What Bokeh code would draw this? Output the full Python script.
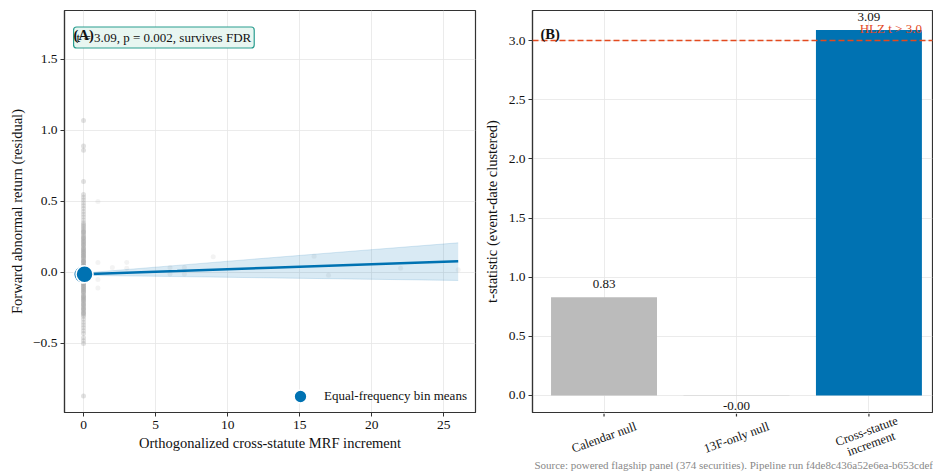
import math
from bokeh.plotting import figure
from bokeh.layouts import row, column
from bokeh.models import (Range1d, FixedTicker, CustomJSTickFormatter, Label, Span,
                          Legend, LegendItem, Div)
from bokeh.embed import file_html
from bokeh.resources import INLINE
from bokeh.core.properties import value

FONT = "Liberation Serif"
BLUE = "#0072B2"
GREY_BAR = "#BBBBBB"
RED = "#E34A1F"
SPINE = "#333333"

# ---------------- Panel A data ----------------
zero_resid = [1.07, 0.89, 0.86, 0.64, 0.55, 0.53, 0.51, 0.49, 0.47, 0.45, 0.43, 0.41,
              0.39, 0.37, 0.35, 0.34, 0.33, 0.32, 0.31, 0.30, 0.29, 0.28, 0.27, 0.26,
              0.25, 0.24, 0.23, 0.22, 0.21, 0.20, 0.19, 0.18, 0.17, 0.16, 0.15, 0.14,
              0.13, 0.12, 0.11, 0.10, 0.09, 0.08, 0.07, 0.06, 0.05, 0.04, 0.03, 0.02,
              0.01, 0.00, -0.01, -0.02, -0.03, -0.04, -0.05, -0.06, -0.07, -0.08,
              -0.09, -0.10, -0.11, -0.12, -0.13, -0.14, -0.15, -0.16, -0.17, -0.18,
              -0.19, -0.20, -0.21, -0.22, -0.23, -0.24, -0.25, -0.26, -0.27, -0.28,
              -0.29, -0.30, -0.31, -0.33, -0.35, -0.37, -0.39, -0.41, -0.43, -0.46,
              -0.48, -0.50, -0.87,
              0.22, 0.15, 0.08, 0.03, -0.02, -0.06, -0.12, -0.18, 0.12, 0.05, -0.04, -0.09,
              0.285, 0.245, 0.195, 0.165, 0.135, 0.105, 0.075, 0.045, 0.015, -0.015,
              -0.045, -0.075, -0.105, -0.135, -0.165, -0.195, -0.225, -0.255, -0.285]
other_x = [1, 1, 1, 1, 2, 3, 3, 6, 6, 7, 7, 9, 16, 17, 22, 26]
other_y = [0.50, 0.07, -0.05, -0.11, 0.035, 0.07, 0.03, 0.035, -0.01, 0.035, -0.01,
           0.11, 0.115, -0.02, 0.03, 0.02]
bin_x = [-0.09, 0.07]
bin_y = [-0.014, -0.012]
fit_x = [0.0, 6.5, 13.0, 19.5, 26.0]
fit_y = [-0.013, 0.010, 0.034, 0.057, 0.080]
fit_lo = [-0.020, -0.029, -0.038, -0.047, -0.056]
fit_hi = [-0.004, 0.050, 0.104, 0.157, 0.209]
annot_text = "t = 3.09, p = 0.002, survives FDR"
x_ticks_a = [0, 5, 10, 15, 20, 25]
y_ticks_a = [-0.5, 0.0, 0.5, 1.0, 1.5]

# ---------------- Panel B data ----------------
categories = ["Calendar null", "13F-only null", "Cross-statute\nincrement"]
t_values = [0.83, -0.002, 3.09]
bar_colors = [GREY_BAR, GREY_BAR, BLUE]
hlz_threshold = 3.0
y_ticks_b = [0.0, 0.5, 1.0, 1.5, 2.0, 2.5, 3.0]

source_text = ("Source: powered flagship panel (374 securities). "
               "Pipeline run f4de8c436a52e6ea-b653cdef")

# ---------------- geometry ----------------
H_TOTAL = 474
H_NOTE = 12
H = H_TOTAL - H_NOTE
TOP = 10
FRAME_H = 402
W1, W2 = 480, 453
B2_LEFT, B2_RIGHT, B2_BOTTOM = 50, 1, 1
H2 = TOP + FRAME_H + B2_BOTTOM
H3 = H - H2


def style(p):
    p.outline_line_color = SPINE
    p.outline_line_width = 1.2
    p.background_fill_color = "white"
    p.border_fill_color = "white"
    for ax in p.axis:
        ax.axis_line_color = SPINE
        ax.axis_line_width = 1.2
        ax.major_tick_line_color = SPINE
        ax.major_tick_out = 4
        ax.major_tick_in = 0
        ax.minor_tick_line_color = None
        ax.major_label_text_font = FONT
        ax.major_label_text_font_size = "13.5px"
        ax.major_label_text_color = "#111111"
        ax.axis_label_text_font = FONT
        ax.axis_label_text_font_size = "14.5px"
        ax.axis_label_text_font_style = "normal"
        ax.axis_label_text_color = "#111111"
        ax.major_label_standoff = 3
    for g in p.grid:
        g.grid_line_color = "#E6E6E6"
        g.grid_line_width = 0.8


num_fmt = CustomJSTickFormatter(code="""
    return tick < 0 ? "\\u2212" + Math.abs(tick).toFixed(1) : tick.toFixed(1);
""")

# ---------------- Panel A ----------------
p1 = figure(width=W1, height=H, output_backend="svg", toolbar_location=None,
            x_range=Range1d(-1.32, 27.2), y_range=Range1d(-0.986, 1.845),
            min_border_left=64, min_border_right=5, min_border_top=TOP,
            min_border_bottom=H - TOP - FRAME_H)
p1.scatter([0] * len(zero_resid), zero_resid, size=5, color="#AAAAAA", alpha=0.35,
           line_color=None)
p1.scatter(other_x, other_y, size=5, color="#999999", alpha=0.12, line_color=None)
p1.varea(x=fit_x, y1=fit_lo, y2=fit_hi, fill_color=BLUE, fill_alpha=0.15)
p1.line(fit_x, fit_lo, line_color=BLUE, line_alpha=0.15, line_width=1)
p1.line(fit_x, fit_hi, line_color=BLUE, line_alpha=0.15, line_width=1)
p1.line(fit_x, fit_y, line_color=BLUE, line_width=2.5)
r_bins = p1.scatter(bin_x, bin_y, size=17, fill_color=BLUE, line_color="white",
                    line_width=1.5)

p1.xaxis.ticker = FixedTicker(ticks=x_ticks_a)
p1.yaxis.ticker = FixedTicker(ticks=y_ticks_a)
p1.yaxis.formatter = num_fmt
p1.xaxis.axis_label = "Orthogonalized cross-statute MRF increment"
p1.yaxis.axis_label = "Forward abnormal return (residual)"
style(p1)
p1.xaxis.major_label_standoff = 4
p1.xaxis.axis_label_standoff = 3
p1.yaxis.axis_label_standoff = 5

legend = Legend(items=[LegendItem(label="Equal-frequency bin means", renderers=[r_bins])],
                location="bottom_right", border_line_alpha=0, background_fill_alpha=0,
                glyph_width=32, glyph_height=32, padding=0, margin=0, label_standoff=8,
                label_width=151, label_text_font=FONT, label_text_font_size="13px",
                label_text_color="#111111")
p1.add_layout(legend)

p1.add_layout(Label(x=-0.69, y=1.655, text=annot_text, text_font=FONT,
                    text_font_size="13px", text_color="#111111", text_align="left",
                    text_baseline="middle", background_fill_color="#E8F6F1",
                    border_line_color="#2A9D8F", border_line_width=1.2,
                    padding=3, border_radius=3))
p1.add_layout(Label(x=-0.69, y=1.67, text="(A)", text_font=FONT, text_font_size="14.5px",
                    text_font_style="bold", text_color="#111111", text_align="left",
                    text_baseline="middle"))

# ---------------- Panel B ----------------
idx = list(range(len(categories)))
xb0, xb1 = -0.54, 2.48
yb0, yb1 = -0.144, 3.254
p2 = figure(width=W2, height=H2, output_backend="svg", toolbar_location=None,
            x_range=Range1d(xb0, xb1), y_range=Range1d(yb0, yb1),
            min_border_left=B2_LEFT, min_border_right=B2_RIGHT, min_border_top=TOP,
            min_border_bottom=B2_BOTTOM)
p2.vbar(x=idx, top=t_values, width=0.8, fill_color=bar_colors, line_color=None)
p2.add_layout(Span(location=hlz_threshold, dimension="width", line_color=RED,
                   line_dash="6 3", line_width=1.5))
p2.text(x=idx, y=t_values, text=["%.2f" % v for v in t_values],
        y_offset=[-13 if v >= 0 else 10 for v in t_values],
        text_align="center", text_baseline="middle", text_font=value(FONT),
        text_font_size="13px", text_font_style="normal", text_color="#111111")
p2.text(x=[2.40], y=[hlz_threshold], text=["HLZ t > %.1f" % hlz_threshold], y_offset=[-12],
        text_align="right", text_baseline="middle", text_font=value(FONT),
        text_font_size="13px", text_font_style="normal", text_color=RED)

p2.yaxis.ticker = FixedTicker(ticks=y_ticks_b)
p2.yaxis.formatter = num_fmt
p2.yaxis.axis_label = "t-statistic (event-date clustered)"
style(p2)
p2.xaxis.visible = False
p2.xgrid.ticker = FixedTicker(ticks=idx)
p2.yaxis.axis_label_standoff = 6

p2.add_layout(Label(x=xb0, y=3.12, text="(B)", text_font=FONT, text_font_size="14.5px",
                    text_font_style="bold", text_color="#111111", text_align="left",
                    text_baseline="top", x_offset=8))

# strip below panel B (frame aligned with panel B): tick marks and rotated labels
p3 = figure(width=W2, height=H3, output_backend="svg", toolbar_location=None,
            x_range=Range1d(xb0, xb1), y_range=Range1d(0, H3),
            min_border_left=B2_LEFT, min_border_right=B2_RIGHT, min_border_top=0,
            min_border_bottom=0)
p3.axis.visible = False
p3.grid.visible = False
p3.outline_line_color = None
p3.background_fill_color = "white"
p3.border_fill_color = "white"
p3.segment(x0=idx, y0=[H3] * len(idx), x1=idx, y1=[H3 - (4 - B2_BOTTOM)] * len(idx),
           line_color=SPINE, line_width=1.2)
for i, cat in enumerate(categories):
    p3.add_layout(Label(x=i, y=H3 - 24, text=cat, angle=math.radians(20),
                        text_align="center", text_baseline="middle", text_font=FONT,
                        text_font_size="12.5px", text_color="#111111",
                        text_line_height=0.95))

note = Div(text=('<div style="display:block;position:relative;top:-5px;width:%dpx;'
                 'text-align:right;font-family:\'Liberation Serif\';font-size:11px;'
                 'color:#888888;line-height:%dpx;white-space:nowrap;">%s</div>')
                % (W1 + W2, H_NOTE, source_text),
           width=W1 + W2, height=H_NOTE, margin=0,
           styles={"text-align": "right", "width": "%dpx" % (W1 + W2)})

layout = column(row(p1, column(p2, p3)), note)
open("out.html", "w").write(file_html(layout, INLINE))
